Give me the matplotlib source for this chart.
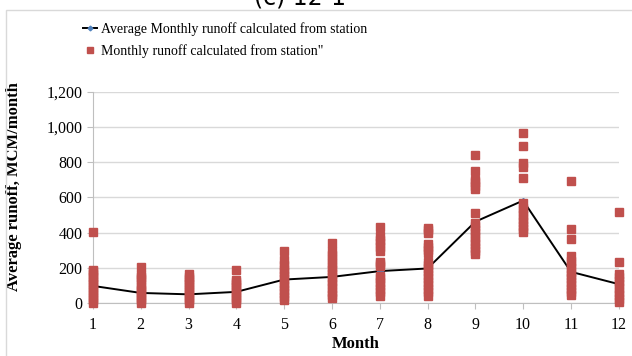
import matplotlib.pyplot as plt
from matplotlib.patches import Rectangle

plt.rcParams['font.family'] = ['Liberation Serif', 'DejaVu Serif']

months = [1, 2, 3, 4, 5, 6, 7, 8, 9, 10, 11, 12]
avg_runoff = [97, 57, 49, 63, 133, 148, 181, 196, 462, 582, 177, 107]

# monthly runoff values per month (read from the stacks of squares)
runoff_m1 = [0, 15, 30, 45, 60, 75, 90, 105, 120, 135, 150, 165, 180, 190, 405]
runoff_m2 = [0, 15, 30, 45, 60, 75, 90, 105, 135, 150, 160, 205]
runoff_m3 = [0, 15, 30, 45, 60, 75, 90, 105, 120, 135, 150, 167]
runoff_m4 = [0, 15, 30, 45, 60, 75, 90, 105, 120, 133, 186]
runoff_m5 = [15, 35, 55, 75, 95, 115, 135, 155, 175, 195, 215, 243, 297]
runoff_m6 = [27, 45, 65, 85, 105, 125, 145, 165, 185, 205, 225, 250, 270, 293, 340]
runoff_m7 = [42, 60, 80, 100, 120, 140, 155, 210, 220, 235, 297, 320, 340, 360, 380, 433]
runoff_m8 = [42, 60, 80, 100, 120, 140, 160, 180, 200, 215, 230, 285, 300, 320, 335, 399, 415, 428]
runoff_m9 = [278, 295, 315, 335, 355, 375, 395, 415, 435, 452, 513, 648, 665, 685, 700, 751, 842]
runoff_m10 = [401, 420, 440, 460, 480, 500, 520, 540, 566, 713, 770, 798, 895, 966]
runoff_m11 = [44, 60, 80, 100, 120, 140, 160, 177, 200, 220, 240, 268, 365, 418, 694]
runoff_m12 = [6, 25, 45, 65, 85, 107, 125, 145, 162, 234, 515]

monthly = [runoff_m1, runoff_m2, runoff_m3, runoff_m4, runoff_m5, runoff_m6,
           runoff_m7, runoff_m8, runoff_m9, runoff_m10, runoff_m11, runoff_m12]

yticks = [0, 200, 400, 600, 800, 1000, 1200]
ytick_labels = ['0', '200', '400', '600', '800', '1,000', '1,200']

fig = plt.figure(figsize=(6.32, 3.56), dpi=100)
ax = fig.add_axes([0.147, 0.149, 0.832, 0.593])

# chart frame and clipped title
fig.patches.append(Rectangle((6 / 632, -0.1), 1.2, 1 - 10 / 356 + 0.1,
                             transform=fig.transFigure, fill=False,
                             edgecolor='#d9d9d9', linewidth=1.0))
fig.text(0.475, 1 - 4 / 356, '(c) 12-1', fontsize=17, ha='center',
         va='baseline', family='DejaVu Sans')

ax.grid(axis='y', color='#d9d9d9', linewidth=1.0, zorder=0)

ax.plot(months, avg_runoff, '-', color='black', linewidth=1.4, marker='D',
        markersize=3, markerfacecolor='#4f81bd', markeredgecolor='#4f81bd',
        clip_on=False, zorder=2, label='Average Monthly runoff calculated from station')

xs, ys = [], []
for m, vals in zip(months, monthly):
    xs += [m] * len(vals)
    ys += vals
ax.plot(xs, ys, 's', color='#c0504d', markersize=5.2, linestyle='none',
        clip_on=False, zorder=3, label='Monthly runoff calculated from station"')

ax.set_xlim(1, 12)
ax.set_ylim(0, 1200)
ax.set_xticks(months)
ax.set_yticks(yticks)
ax.set_yticklabels(ytick_labels)

for side in ['top', 'right']:
    ax.spines[side].set_visible(False)
ax.spines['left'].set_color('#bfbfbf')
ax.spines['bottom'].set_color('#bfbfbf')
ax.tick_params(axis='both', colors='#bfbfbf', labelcolor='black',
               labelsize=11.5, length=4)
ax.tick_params(axis='x', pad=6)

ax.set_xlabel('Month', fontsize=12, fontweight='bold', labelpad=2)
ax.set_ylabel('Average runoff, MCM/month', fontsize=12, fontweight='bold')
ax.yaxis.set_label_coords(-0.135, 0.55)

ax.legend(loc='lower left', bbox_to_anchor=(-0.03, 1.133), frameon=False,
          fontsize=10, handlelength=1.0, handletextpad=0.3, labelspacing=0.6,
          borderaxespad=0, markerscale=0.8)

fig.savefig('out.png', dpi=100)
